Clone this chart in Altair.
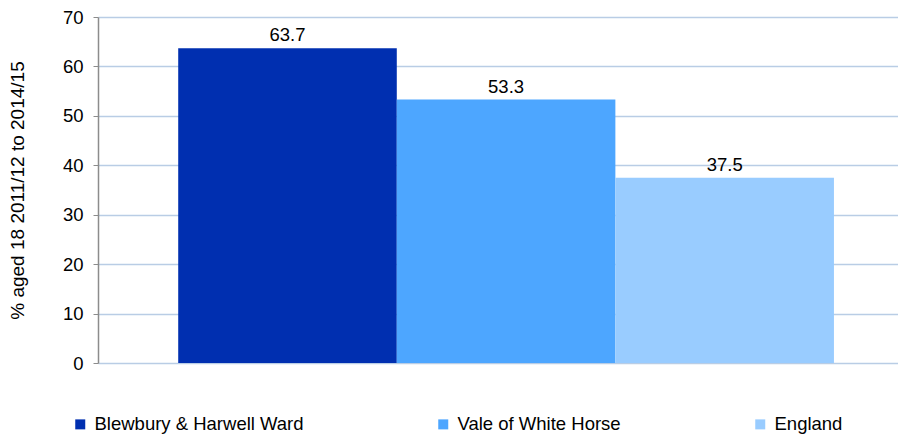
import altair as alt
import pandas as pd

series = ["Blewbury & Harwell Ward", "Vale of White Horse", "England"]
values = [63.7, 53.3, 37.5]
colors = ["#002FB0", "#4DA6FF", "#99CCFF"]
y_ticks = [0, 10, 20, 30, 40, 50, 60, 70]

df = pd.DataFrame({"series": series, "value": values, "label": [f"{v:.1f}" for v in values]})

FONT = "Liberation Sans"
FS = 18.5

base = alt.Chart(df).encode(
    x=alt.X("series:N", sort=series, axis=None,
            scale=alt.Scale(paddingInner=0, paddingOuter=0.33, align=0.556)),
)

bars = base.mark_bar().encode(
    y=alt.Y("value:Q", title="% aged 18 2011/12 to 2014/15",
            scale=alt.Scale(domain=[0, 70]),
            axis=alt.Axis(values=y_ticks, grid=True, gridColor="#B9CDE5", gridWidth=1.5,
                          domainColor="#8C8C8C", domainWidth=1.5, tickColor="#8C8C8C",
                          tickSize=5, labelFontSize=FS, labelFont=FONT, labelColor="#000000",
                          labelPadding=10, titleFontSize=19, titleFont=FONT,
                          titleFontWeight="normal", titleColor="#000000", titlePadding=35)),
    color=alt.Color("series:N", sort=series,
                    scale=alt.Scale(domain=series, range=colors),
                    legend=alt.Legend(title=None, orient="none", legendX=-27, legendY=398,
                                      direction="horizontal", symbolType="square",
                                      symbolSize=100, symbolStrokeWidth=0,
                                      labelFontSize=FS, labelFont=FONT, labelColor="#000000",
                                      labelLimit=0, labelOffset=5, columnPadding=130)),
)

text = base.mark_text(fontSize=FS, font=FONT, color="#000000", baseline="alphabetic", dy=-7).encode(
    y=alt.Y("value:Q"),
    text="label:N",
)

chart = (bars + text).properties(
    width=800, height=346,
    padding={"top": 0, "left": 0, "right": 0, "bottom": 0},
).configure_view(stroke=None)

chart.save("out.html", embed_options={"renderer": "svg", "actions": False})
